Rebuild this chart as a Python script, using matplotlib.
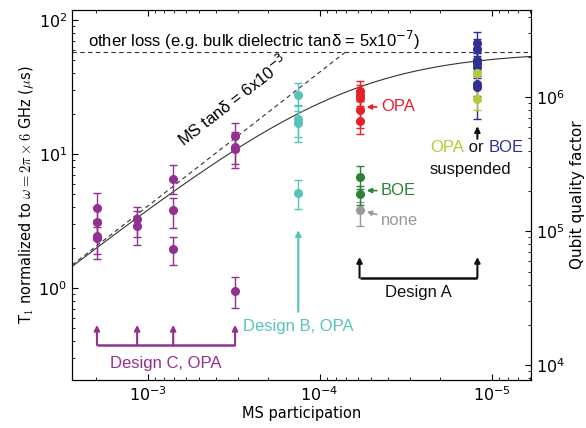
import numpy as np
import matplotlib.pyplot as plt

# measured T1 (us), with error bar ends, per design / treatment
p_c = [1.97e-3] * 4 + [1.15e-3] * 2 + [7.1e-4] * 3 + [3.1e-4] * 4
t1_c = [3.95, 3.1, 2.44, 2.36, 3.27, 2.9, 6.5, 3.82, 1.95, 13.6, 11.3, 10.9, 0.95]
lo_c = [2.85, 2.3, 1.79, 1.65, 2.42, 2.1, 5.0, 2.8, 1.48, 10.5, 8.4, 7.9, 0.71]
hi_c = [5.1, 4.0, 3.2, 3.0, 4.02, 3.77, 8.3, 4.7, 2.4, 17.1, 14.5, 14.0, 1.2]

p_b = [1.33e-4] * 4
t1_b = [27.6, 18.2, 17.0, 5.1]
lo_b = [23.2, 13.4, 12.3, 3.9]
hi_b = [33.9, 23.0, 20.9, 6.4]

p_a = 5.86e-5
t1_a_opa = [29.7, 27.6, 26.1, 21.3, 17.7]
lo_a_opa = [25.0, 23.0, 22.0, 15.6, 14.1]
hi_a_opa = [35.2, 32.6, 30.0, 25.0, 21.0]
t1_a_boe = [6.7, 5.0]
lo_a_boe = [5.5, 4.2]
hi_a_boe = [8.1, 5.8]
t1_a_none = [3.8]
lo_a_none = [2.9]
hi_a_none = [4.4]

p_s = 1.21e-5
t1_s_boe = [67.7, 60.4, 50.3, 47.5, 44.8, 33.3, 31.8]
lo_s_boe = [57, 50, 42, 40, 37, 27, 18.2]
hi_s_boe = [81.8, 72, 60, 57, 54, 40, 38]
t1_s_opa = [40.4, 25.7]
lo_s_opa = [33, 21.3]
hi_s_opa = [48, 31]

# loss model
omega = 2 * np.pi * 6e9
tan_ms = 6.5e-3      # fitted to the drawn line
t1_other = 58.0      # us

design_c_p = [1.97e-3, 1.15e-3, 7.1e-4, 3.1e-4]
design_a_p = [p_a, p_s]

xlim = (2.75e-3, 5.9e-6)
ylim = (0.206, 118.8)

PURPLE = '#93308f'
TEAL = '#55c4ba'
RED = '#e8202a'
GREEN = '#2f7f3a'
GRAY = '#9a9a9a'
NAVY = '#2e3192'
YG = '#b5c93a'
SANS = 'Liberation Sans'

fig = plt.figure(figsize=(5.86, 4.28), dpi=100)
ax = fig.add_axes([0.1229, 0.1121, 0.7833, 0.8645])
ax.set_xscale('log')
ax.set_yscale('log')
ax.set_xlim(xlim)
ax.set_ylim(ylim)

# model lines
p_line = np.logspace(np.log10(xlim[0]), np.log10(xlim[1]), 300)
t_ms = 1e6 / (omega * p_line * tan_ms)
t_tot = 1 / (1 / t_ms + 1 / t1_other)
keep = t_ms <= t1_other
ax.plot(p_line[keep], t_ms[keep], ls=(0, (4, 3)), color='#333333', lw=0.8, zorder=1)
ax.axhline(t1_other, ls=(0, (4, 3)), color='#333333', lw=0.8, zorder=1)
ax.plot(p_line, t_tot, color='#333333', lw=0.8, zorder=1)


def points(p, t1, lo, hi, color):
    t1 = np.array(t1)
    p = np.broadcast_to(p, t1.shape)
    yerr = [t1 - np.array(lo), np.array(hi) - t1]
    ax.errorbar(p, t1, yerr=yerr, fmt='o', color=color, ms=5.5, lw=1,
                capsize=3, capthick=1, zorder=3)


points(p_c, t1_c, lo_c, hi_c, PURPLE)
points(p_b, t1_b, lo_b, hi_b, TEAL)
points(p_a, t1_a_none, lo_a_none, hi_a_none, GRAY)
points(p_a, t1_a_boe, lo_a_boe, hi_a_boe, GREEN)
points(p_a, t1_a_opa, lo_a_opa, hi_a_opa, RED)
points(p_s, t1_s_boe, lo_s_boe, hi_s_boe, NAVY)
points(p_s, t1_s_opa, lo_s_opa, hi_s_opa, YG)

ax.tick_params(which='both', direction='in', top=True, right=False, labelsize=11.5)
ax.tick_params(which='major', length=4)
ax.tick_params(which='minor', length=2)
ax.set_xlabel('MS participation', fontsize=10.5, labelpad=2)
ax.set_ylabel(r'T$_1$ normalized to $\omega = 2\pi \times 6$ GHz ($\mu$s)',
              fontsize=10.5, math_fontfamily='cm', labelpad=2)

# quality factor axis
ax2 = ax.twinx()
ax2.set_yscale('log')
ax2.set_ylim(ylim[0] * omega * 1e-6, ylim[1] * omega * 1e-6)
ax2.tick_params(which='both', direction='in', labelsize=11.5)
ax2.tick_params(which='major', length=4)
ax2.tick_params(which='minor', length=2)
ax2.set_ylabel('Qubit quality factor', fontsize=11, labelpad=4)

# annotations
tr = ax.get_xaxis_transform()
arrow = dict(arrowstyle='-|>', lw=1.5, mutation_scale=8, shrinkA=0, shrinkB=0)

ax.text(0.035, 0.919, 'other loss (e.g. bulk dielectric tanδ = 5x10$^{-7}$)',
        transform=ax.transAxes, fontsize=12, family=SANS, va='center',
        math_fontfamily='dejavusans')
ax.text(0.35, 0.755, 'MS tanδ = 6x10$^{-3}$', transform=ax.transAxes,
        fontsize=12, family=SANS, rotation=37.9, ha='center', va='center',
        math_fontfamily='dejavusans')

# design C
ax.plot([design_c_p[0], design_c_p[-1]], [0.0946, 0.0946], transform=tr,
        color=PURPLE, lw=1.8, solid_capstyle='butt')
for p in design_c_p:
    ax.annotate('', xy=(p, 0.149), xytext=(p, 0.0946), xycoords=tr, textcoords=tr,
                arrowprops=dict(arrow, color=PURPLE))
ax.text(np.sqrt(design_c_p[0] * design_c_p[-1]), 0.045, 'Design C, OPA', transform=tr,
        color=PURPLE, fontsize=12, family=SANS, ha='center', va='center')

# design B
ax.annotate('', xy=(p_b[0], 0.405), xytext=(p_b[0], 0.1846), xycoords=tr, textcoords=tr,
            arrowprops=dict(arrow, color=TEAL))
ax.text(p_b[0], 0.144, 'Design B, OPA', transform=tr, color=TEAL, fontsize=12,
        family=SANS, ha='center', va='center')

# design A
ax.plot(design_a_p, [0.2765, 0.2765], transform=tr, color='#111111', lw=1.8,
        solid_capstyle='butt')
for p in design_a_p:
    ax.annotate('', xy=(p, 0.3324), xytext=(p, 0.2765), xycoords=tr, textcoords=tr,
                arrowprops=dict(arrow, color='#111111'))
ax.text(np.sqrt(design_a_p[0] * design_a_p[1]), 0.236, 'Design A', transform=tr,
        color='#111111', fontsize=12, family=SANS, ha='center', va='center')

# labels for design A treatments
for label, fy, tip_fy, color in [('OPA', 0.738, 0.738, RED), ('BOE', 0.512, 0.512, GREEN),
                                 ('none', 0.43, 0.455, GRAY)]:
    ax.annotate(label, xy=(0.642, tip_fy), xytext=(0.673, fy), xycoords='axes fraction',
                textcoords='axes fraction', color=color, fontsize=12, family=SANS,
                va='center', ha='left',
                arrowprops=dict(arrowstyle='-|>', color=color, lw=1.2,
                                mutation_scale=7, shrinkA=1, shrinkB=0))

# suspended
ax.annotate('', xy=(p_s, 0.686), xytext=(p_s, 0.652), xycoords=tr, textcoords=tr,
            arrowprops=dict(arrow, color='#111111'))
t1 = ax.text(0.78, 0.628, 'OPA', transform=ax.transAxes, color=YG, fontsize=12,
             family=SANS, va='center')
t2 = ax.annotate(' or ', xy=(1, 0), xycoords=t1, va='bottom', color='#111111',
                 fontsize=12, family=SANS)
ax.annotate('BOE', xy=(1, 0), xycoords=t2, va='bottom', color=NAVY, fontsize=12,
            family=SANS)
ax.text(0.78, 0.570, 'suspended', transform=ax.transAxes, color='#111111', fontsize=12,
        family=SANS, va='center')

fig.savefig('out.png', dpi=100)
